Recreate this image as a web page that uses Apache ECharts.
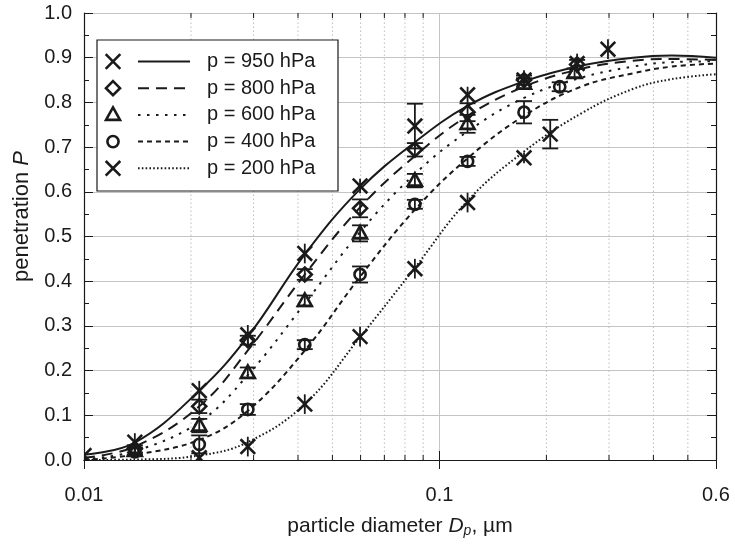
<!DOCTYPE html>
<html>
<head>
<meta charset="utf-8">
<script src="https://cdn.jsdelivr.net/npm/echarts@6/dist/echarts.min.js"></script>
<style>
  html, body { margin: 0; padding: 0; background: #fff; }
  #chart { width: 735px; height: 560px; }
</style>
</head>
<body>
<div id="chart"></div>
<script>
// Penetration of particles through the inlet as a function of diameter, at five pressures.

// Legend labels
const levelLabels = ['p = 950 hPa', 'p = 800 hPa', 'p = 600 hPa', 'p = 400 hPa', 'p = 200 hPa'];

// Measured points: diameter (µm), penetration, error-bar half width
const d950 = [0.01, 0.0139, 0.0211, 0.0289, 0.0418, 0.0598, 0.0853, 0.120, 0.173, 0.244, 0.298];
const p950 = [0.010, 0.040, 0.155, 0.280, 0.462, 0.613, 0.747, 0.817, 0.850, 0.887, 0.919];
const e950 = [0.004, 0.020, 0.022, 0.022, 0.022, 0.016, 0.050, 0.018, 0.022, 0.022, 0.022];

const d800 = [0.0139, 0.0211, 0.0289, 0.0418, 0.0598, 0.0853, 0.120, 0.173, 0.244];
const p800 = [0.025, 0.120, 0.268, 0.415, 0.563, 0.694, 0.778, 0.850, 0.885];
const e800 = [0.008, 0.015, 0.010, 0.012, 0.020, 0.015, 0.020, 0.010, 0.010];

const d600 = [0.0139, 0.0211, 0.0289, 0.0418, 0.0598, 0.0853, 0.120, 0.173, 0.240];
const p600 = [0.020, 0.077, 0.195, 0.356, 0.507, 0.625, 0.752, 0.842, 0.866];
const e600 = [0.008, 0.015, 0.012, 0.012, 0.018, 0.015, 0.020, 0.012, 0.010];

const d400 = [0.0139, 0.0211, 0.0289, 0.0418, 0.0598, 0.0853, 0.120, 0.173, 0.218];
const p400 = [0.018, 0.035, 0.113, 0.258, 0.415, 0.572, 0.668, 0.778, 0.835];
const e400 = [0.008, 0.020, 0.012, 0.010, 0.018, 0.010, 0.010, 0.025, 0.010];

const d200 = [0.0211, 0.0289, 0.0418, 0.0598, 0.0853, 0.120, 0.173, 0.205];
const p200 = [0.005, 0.030, 0.125, 0.276, 0.428, 0.576, 0.676, 0.729];
const e200 = [0.022, 0.022, 0.022, 0.022, 0.022, 0.022, 0.012, 0.032];

// Fitted curves, sampled along the diameter axis
const curveD  = [0.01, 0.0139, 0.0211, 0.0289, 0.0418, 0.0598, 0.0853, 0.12, 0.173, 0.25, 0.35, 0.45, 0.6];
const fit950  = [0.012, 0.039, 0.155, 0.276, 0.460, 0.606, 0.711, 0.792, 0.847, 0.882, 0.900, 0.905, 0.900];
const fit800  = [0.005, 0.030, 0.120, 0.245, 0.415, 0.565, 0.680, 0.770, 0.835, 0.875, 0.893, 0.897, 0.895];
const fit600  = [0.002, 0.020, 0.085, 0.190, 0.350, 0.510, 0.640, 0.735, 0.810, 0.855, 0.880, 0.890, 0.892];
const fit400  = [0.000, 0.012, 0.045, 0.110, 0.245, 0.410, 0.560, 0.675, 0.770, 0.835, 0.865, 0.880, 0.887];
const fit200  = [0.000, 0.001, 0.010, 0.040, 0.125, 0.275, 0.430, 0.580, 0.690, 0.775, 0.830, 0.852, 0.863];

// Minor tick values on the log axis
const xMinorTicks = [0.02, 0.03, 0.04, 0.05, 0.06, 0.07, 0.08, 0.09, 0.2, 0.3, 0.4, 0.5];

const FONT = '"Liberation Sans", Arial, Helvetica, sans-serif';
const INK = '#1a1a1a';
const FS = 20;

const shapes = ['cross', 'diamond', 'triangle', 'circle', 'cross'];
const dashes = [null, [11, 7], [2.5, 6.5], [5, 4], [1.6, 2.2]];

function markerGraphic(shape, x, y, z) {
  const s = { stroke: INK, lineWidth: 2.6, fill: 'none' };
  const zz = z || 0;
  if (shape === 'cross') {
    const r = 7.3;
    return { type: 'group', children: [
      { type: 'line', z: zz, shape: { x1: x - r, y1: y - r, x2: x + r, y2: y + r }, style: s },
      { type: 'line', z: zz, shape: { x1: x - r, y1: y + r, x2: x + r, y2: y - r }, style: s }
    ] };
  }
  if (shape === 'diamond') {
    return { type: 'polygon', z: zz, shape: { points: [[x, y - 7], [x + 7, y], [x, y + 7], [x - 7, y]] }, style: s };
  }
  if (shape === 'triangle') {
    return { type: 'polygon', z: zz, shape: { points: [[x, y - 7.5], [x + 7, y + 5], [x - 7, y + 5]] }, style: s };
  }
  return { type: 'circle', z: zz, shape: { cx: x, cy: y, r: 5.6 }, style: s };
}

function pointsSeries(ds, ps, es, shape) {
  return {
    type: 'custom',
    xAxisIndex: 0, yAxisIndex: 0,
    z: 6, clip: true, silent: true,
    data: ds.map((d, i) => [d, ps[i], es[i]]),
    renderItem: (params, api) => {
      const d = api.value(0), p = api.value(1), e = api.value(2);
      const c = api.coord([d, p]);
      const hi = api.coord([d, p + e])[1];
      const lo = api.coord([d, p - e])[1];
      const ls = { stroke: INK, lineWidth: 1.8 };
      const kids = [{ type: 'line', shape: { x1: c[0], y1: hi, x2: c[0], y2: lo }, style: ls }];
      // crosses carry caps only on their wide bars
      const withCaps = shape !== 'cross' || e >= 0.03;
      if (withCaps) {
        kids.push({ type: 'line', shape: { x1: c[0] - 8, y1: hi, x2: c[0] + 8, y2: hi }, style: ls });
        kids.push({ type: 'line', shape: { x1: c[0] - 8, y1: lo, x2: c[0] + 8, y2: lo }, style: ls });
      }
      kids.push(markerGraphic(shape, c[0], c[1]));
      return { type: 'group', children: kids };
    }
  };
}

function curveSeries(fit, dash) {
  return {
    type: 'line', xAxisIndex: 0, yAxisIndex: 0, z: 4,
    data: curveD.map((d, i) => [d, fit[i]]),
    smooth: 0.4, showSymbol: false, symbol: 'none', silent: true,
    lineStyle: { color: INK, width: 2, type: dash || 'solid' }
  };
}

// Dotted minor grid lines and minor tick marks along the log axis
const minorGridSeries = {
  type: 'custom', xAxisIndex: 0, yAxisIndex: 0, z: 1, silent: true,
  data: xMinorTicks.map(v => [v]),
  renderItem: (params, api) => {
    const v = api.value(0);
    const b = api.coord([v, 0]);
    const t = api.coord([v, 1]);
    const tick = { stroke: INK, lineWidth: 1 };
    return { type: 'group', children: [
      { type: 'line', shape: { x1: b[0], y1: b[1], x2: t[0], y2: t[1] },
        style: { stroke: '#bdbdbd', lineWidth: 1, lineDash: [1.5, 2.5] } },
      { type: 'line', shape: { x1: b[0], y1: b[1], x2: b[0], y2: b[1] - 5 }, style: tick },
      { type: 'line', shape: { x1: t[0], y1: t[1], x2: t[0], y2: t[1] + 5 }, style: tick }
    ] };
  }
};

const fmtX = v => String(+(+v).toPrecision(2));

const chart = echarts.init(document.getElementById('chart'));

// Legend: opaque box with marker, line sample and label per pressure
const LZ = 100;
const LG = { x: 97, y: 40, w: 241, h: 151, rowY0: 61.5, rowDy: 26.7 };
const legendElements = [
  { type: 'rect', z: LZ, shape: { x: LG.x, y: LG.y, width: LG.w, height: LG.h },
    style: { fill: '#fff', stroke: INK, lineWidth: 1.2 } }
];
levelLabels.forEach((label, i) => {
  const y = LG.rowY0 + i * LG.rowDy;
  legendElements.push(markerGraphic(shapes[i], 113, y, LZ + 1));
  legendElements.push({ type: 'line', z: LZ + 1, shape: { x1: 138, y1: y, x2: 190, y2: y },
    style: { stroke: INK, lineWidth: 2, lineDash: dashes[i] || null } });
  legendElements.push({ type: 'text', z: LZ + 1, x: 207, y: y,
    style: { text: label, font: FS + 'px ' + FONT, fill: INK, textVerticalAlign: 'middle' } });
});

const axisCommon = {
  axisLine: { show: true, lineStyle: { color: INK, width: 1.2 } },
  axisTick: { show: true, inside: true, length: 9, lineStyle: { color: INK, width: 1 } }
};

chart.setOption({
  animation: false,
  backgroundColor: '#fff',
  textStyle: { fontFamily: FONT },
  grid: { left: 84, right: 19, top: 13, bottom: 100, containLabel: false },
  xAxis: [
    Object.assign({
      type: 'log', logBase: 10, min: 0.01, max: 0.6, position: 'bottom',
      axisLabel: { formatter: fmtX, fontSize: FS, color: INK, margin: 25, fontFamily: FONT,
                   showMinLabel: true, showMaxLabel: true },
      splitLine: { show: true, lineStyle: { color: '#c4c4c4', width: 1 } },
      name: 'particle diameter {i|D}{s|p}, µm',
      nameLocation: 'middle', nameGap: 54,
      nameTextStyle: { fontSize: 21, color: INK, fontFamily: FONT, lineHeight: 24,
        rich: {
          i: { fontStyle: 'italic', fontSize: 21, fontFamily: FONT, color: INK, lineHeight: 24 },
          s: { fontStyle: 'italic', fontSize: 14, fontFamily: FONT, color: INK, lineHeight: 10, verticalAlign: 'bottom' }
        } }
    }, axisCommon),
    Object.assign({
      type: 'log', logBase: 10, min: 0.01, max: 0.6, position: 'top',
      axisLabel: { show: false }, splitLine: { show: false }
    }, axisCommon)
  ],
  yAxis: [
    Object.assign({
      type: 'value', min: 0, max: 1, interval: 0.1, position: 'left',
      minorTick: { show: true, splitNumber: 2, length: 5, lineStyle: { color: INK, width: 1 } },
      axisLabel: { formatter: v => v.toFixed(1), fontSize: FS, color: INK, margin: 12, fontFamily: FONT },
      splitLine: { show: true, lineStyle: { color: '#c4c4c4', width: 1 } },
      name: 'penetration {i|P}',
      nameLocation: 'middle', nameGap: 51,
      nameTextStyle: { fontSize: 22, color: INK, fontFamily: FONT, padding: [0, 0, 0, 40],
        rich: { i: { fontStyle: 'italic', fontSize: 22, fontFamily: FONT, color: INK } } }
    }, axisCommon),
    Object.assign({
      type: 'value', min: 0, max: 1, interval: 0.1, position: 'right',
      minorTick: { show: true, splitNumber: 2, length: 5, lineStyle: { color: INK, width: 1 } },
      axisLabel: { show: false }, splitLine: { show: false }
    }, axisCommon)
  ],
  series: [
    minorGridSeries,
    curveSeries(fit950, dashes[0]),
    curveSeries(fit800, dashes[1]),
    curveSeries(fit600, dashes[2]),
    curveSeries(fit400, dashes[3]),
    curveSeries(fit200, dashes[4]),
    pointsSeries(d950, p950, e950, shapes[0]),
    pointsSeries(d800, p800, e800, shapes[1]),
    pointsSeries(d600, p600, e600, shapes[2]),
    pointsSeries(d400, p400, e400, shapes[3]),
    pointsSeries(d200, p200, e200, shapes[4])
  ],
  graphic: legendElements
});
</script>
</body>
</html>
